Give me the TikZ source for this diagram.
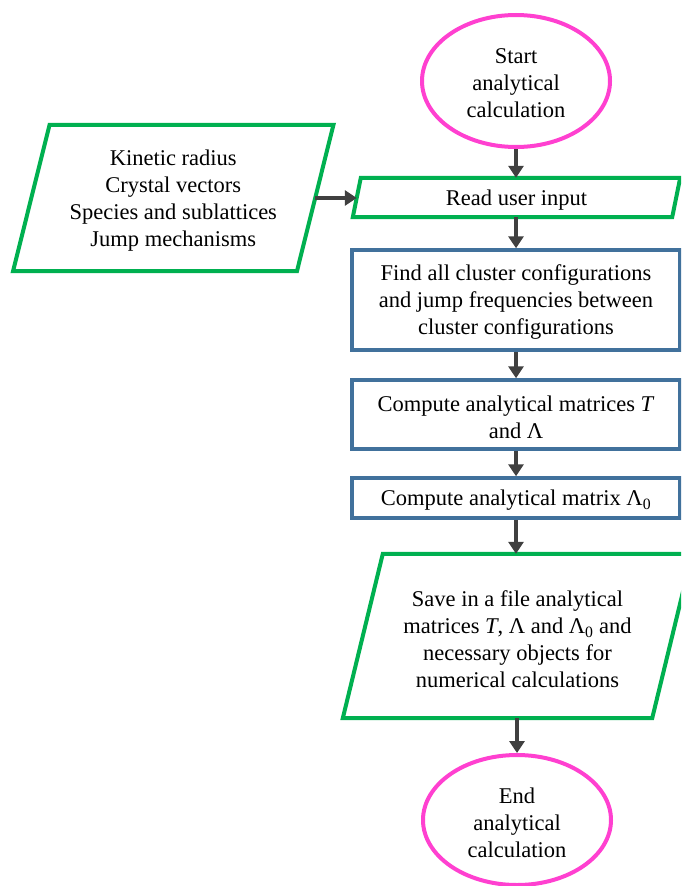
\documentclass[tikz,border=0pt]{standalone}
\usepackage{fontspec}
\setmainfont{Liberation Serif}
\usetikzlibrary{shapes.geometric,arrows.meta,calc}
\definecolor{pinkline}{HTML}{FF40D0}
\definecolor{greenline}{HTML}{00B050}
\definecolor{blueline}{HTML}{41719C}
\definecolor{arrowgray}{HTML}{404040}
\tikzset{
  txt/.style={align=center,font=\fontsize{22.5}{27}\selectfont,inner sep=0pt},
  lbl/.style={txt,yshift=-2.5pt},
  terminal/.style={ellipse,draw=pinkline,line width=4pt,fill=white,inner sep=0pt},
  procbox/.style={rectangle,draw=blueline,line width=3.5pt,fill=white,inner sep=0pt},
  ioshape/.style={draw=greenline,line width=4pt,line join=miter,fill=white},
  flow/.style={draw=arrowgray,line width=4pt,-{Triangle[length=12pt,width=15pt]}}
}
\begin{document}
\begin{tikzpicture}[x=1pt,y=-1pt]
\useasboundingbox (0,0) rectangle (681,886);
\clip (0,0) rectangle (681,886);
\fill[white] (0,0) rectangle (681,886);

% shapes
\node[terminal,minimum width=188pt,minimum height=132pt] (start) at (516,81) {};
\node[inner sep=0pt,minimum width=319pt,minimum height=39pt] (read) at (516.5,197.5) {};
\node[inner sep=0pt,minimum width=283.5pt,minimum height=146pt] (inp) at (173.25,198) {};
\node[procbox,minimum width=328pt,minimum height=100pt] (find) at (516,300) {};
\node[procbox,minimum width=328pt,minimum height=69pt] (comp) at (516,414.5) {};
\node[procbox,minimum width=328pt,minimum height=40pt] (comp0) at (516,498) {};
\node[inner sep=0pt,minimum width=309pt,minimum height=164pt] (save) at (517.5,636) {};
\node[terminal,minimum width=188pt,minimum height=130pt] (end) at (517,820) {};

% parallelograms
\draw[ioshape] ($(inp.north west)+(18.25,0)$) -- ($(inp.north east)+(18.25,0)$) -- ($(inp.south east)+(-18.25,0)$) -- ($(inp.south west)+(-18.25,0)$) -- cycle;
\draw[ioshape] ($(read.north west)+(4,0)$) -- ($(read.north east)+(4,0)$) -- ($(read.south east)+(-4,0)$) -- ($(read.south west)+(-4,0)$) -- cycle;
\draw[ioshape] ($(save.north west)+(20,0)$) -- ($(save.north east)+(20,0)$) -- ($(save.south east)+(-20,0)$) -- ($(save.south west)+(-20,0)$) -- cycle;

% texts
\node[lbl] (startT) at (start) {Start\\analytical\\calculation};
\node[lbl] (inpT) at (inp) {Kinetic radius\\Crystal vectors\\Species and sublattices\\Jump mechanisms};
\node[lbl] (readT) at (read) {Read user input};
\node[lbl] (findT) at (find) {Find all cluster configurations\\and jump frequencies between\\cluster configurations};
\node[lbl] (compT) at (comp) {Compute analytical matrices \textit{T}\\and Λ};
\node[lbl] (comp0T) at (comp0) {Compute analytical matrix Λ\textsubscript{0}};
\node[lbl] (saveT) at ($(save)+(0,1)$) {Save in a file analytical\\matrices \textit{T}, Λ and Λ\textsubscript{0} and\\necessary objects for\\numerical calculations};
\node[lbl] (endT) at (end) {End\\analytical\\calculation};

% connectors
\draw[flow] (start.south) -- (start.south |- read.north);
\draw[flow] (inp.east) -- (inp.east -| read.west);
\draw[flow] (read.south -| find.north) -- (find.north);
\draw[flow] (find.south) -- (comp.north);
\draw[flow] (comp.south) -- (comp0.north);
\draw[flow] (comp0.south) -- (comp0.south |- save.north);
\draw[flow] (save.south -| end.north) -- (end.north);
\end{tikzpicture}
\end{document}
